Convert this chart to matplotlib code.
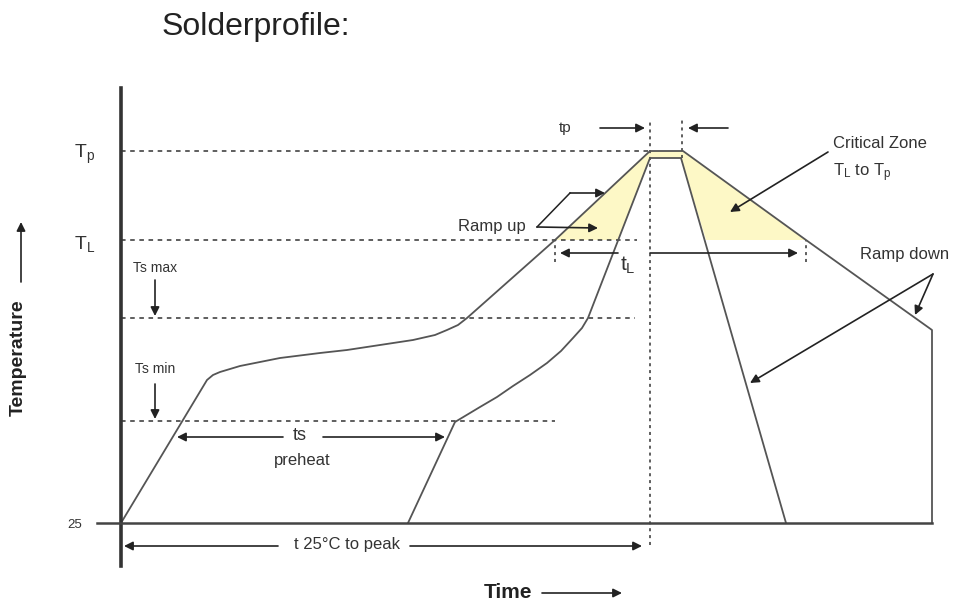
import numpy as np
import matplotlib
matplotlib.use("Agg")
import matplotlib.pyplot as plt

plt.rcParams['font.family'] = ['Liberation Sans', 'DejaVu Sans']
plt.rcParams['mathtext.default'] = 'regular'

# diagram units: time from the start, temperature height above 25 °C
T_25 = 0
TS_MIN = 102
TS_MAX = 205
T_L = 283
T_P = 372
T_P_INNER = 365

# slowest profile (outer curve)
outer_t = [0, 86, 92, 99, 119, 159, 199, 226, 259, 292, 314, 326, 337, 346,
           434, 529, 562, 685, 811, 811]
outer_T = [0, 143, 148, 151, 157, 165, 170, 173, 178, 183, 188, 193, 198, 205,
           283, 372, 372, 283, 193, 0]

# fastest profile (inner curve)
inner_t = [287, 334, 359, 376, 392, 409, 426, 440, 452, 461, 467, 529, 560, 665]
inner_T = [0, 101, 116, 126, 137, 148, 160, 172, 185, 195, 205, 365, 365, 0]

# critical zone polygons (above T_L)
zone_outer_t = [434, 529, 562, 685]
zone_outer_T = [T_L, T_P, T_P, T_L]
zone_inner_t = [497, 529, 560, 585]
zone_inner_T = [T_L, T_P_INNER, T_P_INNER, T_L]

t_peak = 529
t_peak_end = 561

fig = plt.figure(figsize=(9.62, 6.07), dpi=100)
ax = fig.add_axes([0, 0, 1, 1])
ax.set_xlim(-121, 841)
ax.set_ylim(-84, 523)
ax.axis('off')

line_c = '#555555'
dark = '#222222'

# yellow critical zone
ax.fill(zone_outer_t, zone_outer_T, color='#fdf8c6', lw=0, zorder=1)
ax.fill(zone_inner_t, zone_inner_T, color='white', lw=0, zorder=1)

# axes
ax.plot([0, 0], [-43, 435], color='#333333', lw=2.6, zorder=4)
ax.plot([-24, 811], [0, 0], color='#444444', lw=1.8, zorder=4)

# dashed level lines
dash = (0, (3, 3))
ax.plot([0, t_peak], [T_P, T_P], color='#333333', lw=1.1, ls=dash)
ax.plot([0, 516], [T_L, T_L], color='#333333', lw=1.1, ls=dash)
ax.plot([0, 514], [TS_MAX, TS_MAX], color='#333333', lw=1.1, ls=dash)
ax.plot([0, 434], [TS_MIN, TS_MIN], color='#333333', lw=1.1, ls=dash)
ax.plot([t_peak, t_peak], [-22, 403], color='#333333', lw=1.1, ls=(0, (2, 2.5)))
ax.plot([t_peak_end, t_peak_end], [T_P_INNER, 403], color='#333333', lw=1.1, ls=(0, (2, 2.5)))
ax.plot([434, 434], [261, T_L], color='#333333', lw=1.1, ls=(0, (2, 2.5)))
ax.plot([685, 685], [261, T_L], color='#333333', lw=1.1, ls=(0, (2, 2.5)))

# profiles
ax.plot(outer_t, outer_T, color=line_c, lw=1.3, zorder=3)
ax.plot(inner_t, inner_T, color=line_c, lw=1.3, zorder=3)


def arrow(x0, y0, x1, y1):
    ax.annotate('', xy=(x1, y1), xytext=(x0, y0),
                arrowprops=dict(arrowstyle='-|>', color=dark, lw=1.2,
                                mutation_scale=13, shrinkA=0, shrinkB=0),
                zorder=5)


# tp
ax.text(444, 395, 'tp', fontsize=11, ha='center', va='center', color='#333333')
arrow(479, 395, 524, 395)
arrow(607, 395, 567, 395)

# tL
arrow(497, 270, 439, 270)
arrow(t_peak, 270, 677, 270)
ax.text(507, 258, 't$_L$', fontsize=15, ha='center', va='center', color='#333333')

# ramp up
ax.text(371, 296, 'Ramp up', fontsize=12, ha='center', va='center', color='#333333')
ax.plot([416, 449], [296, 330], color=dark, lw=1.1)
arrow(449, 330, 484, 330)
arrow(416, 296, 477, 295)

# critical zone
ax.text(712, 380, 'Critical Zone', fontsize=12, ha='left', va='center', color='#333333')
ax.text(712, 350, 'T$_L$ to T$_p$', fontsize=12, ha='left', va='center', color='#333333')
arrow(707, 371, 609, 311)

# ramp down
ax.text(739, 268, 'Ramp down', fontsize=12, ha='left', va='center', color='#333333')
arrow(812, 249, 794, 208)
arrow(812, 249, 629, 140)

# Ts labels
ax.text(34, 255, 'Ts max', fontsize=10, ha='center', va='center', color='#333333')
arrow(34, 243, 34, 207)
ax.text(34, 154, 'Ts min', fontsize=10, ha='center', va='center', color='#333333')
arrow(34, 139, 34, 104)

# preheat
ax.text(179, 87, 'ts', fontsize=13, ha='center', va='center', color='#333333')
ax.text(181, 63, 'preheat', fontsize=12, ha='center', va='center', color='#333333')
arrow(162, 86, 56, 86)
arrow(202, 86, 324, 86)

# 25 to peak
ax.text(226, -22, 't 25°C to peak', fontsize=12, ha='center', va='center', color='#333333')
arrow(157, -23, 3, -23)
arrow(289, -23, 521, -23)

# level labels
ax.text(-36, 369, 'T$_p$', fontsize=14, ha='center', va='center', color='#333333')
ax.text(-36, 279, 'T$_L$', fontsize=14, ha='center', va='center', color='#333333')
ax.text(-46, -2, '25', fontsize=9.5, ha='center', va='center', color='#333333')

# axis titles
ax.text(387, -69, 'Time', fontsize=15, fontweight='bold', ha='center', va='center', color='#222222')
arrow(421, -70, 501, -70)
ax.text(-103, 165, 'Temperature', fontsize=14, fontweight='bold', rotation=90,
        ha='center', va='center', color='#222222')
arrow(-100, 241, -100, 301)

ax.text(41, 496, 'Solderprofile:', fontsize=23, ha='left', va='center', color='#222222')

fig.savefig('out.png', dpi=100, facecolor='white')
